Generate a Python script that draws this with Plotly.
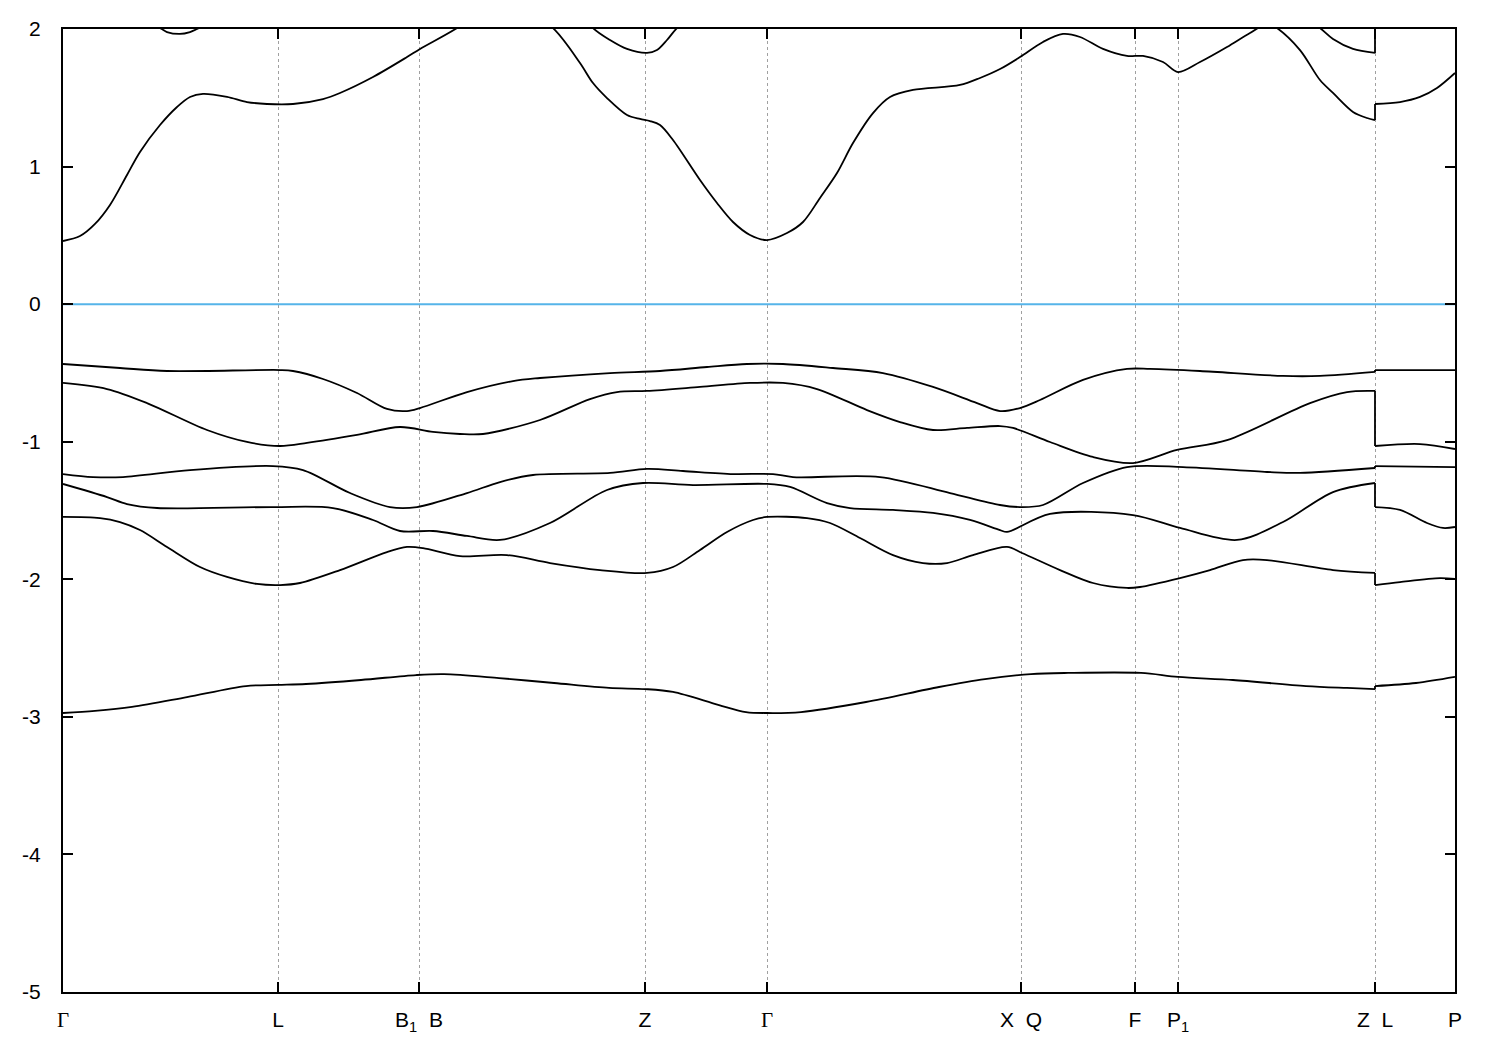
import plotly.graph_objects as go

# High-symmetry points along the k-path (path coordinate, arbitrary units)
sym_k = [0.000, 0.215, 0.356, 0.582, 0.704, 0.958, 1.072, 1.115, 1.312, 1.392]
GAM = '<span style="font-family:\'Liberation Serif\', serif">Γ</span>'
SP = "\u00a0\u00a0"
sym_labels = [GAM, "L", "B<sub>1</sub>" + SP + "B", "Z", GAM, "X" + SP + "Q", "F", "P<sub>1</sub>",
              "Z" + SP + "L", "P"]

# Bands (path coordinate, energy in eV)
band1_k = [0.000, 0.032, 0.069, 0.124, 0.183, 0.215, 0.243, 0.298, 0.353, 0.381, 0.436, 0.491, 0.546, 0.582,
           0.610, 0.656, 0.683, 0.704, 0.738, 0.803, 0.876, 0.922, 0.968, 1.005, 1.078, 1.115, 1.170, 1.243,
           1.284, 1.312, 1.312, 1.353, 1.392]
band1_e = [-2.972, -2.957, -2.928, -2.856, -2.776, -2.768, -2.761, -2.732, -2.696, -2.689, -2.718, -2.754, -2.790,
           -2.798, -2.819, -2.914, -2.965, -2.972, -2.965, -2.892, -2.783, -2.725, -2.689, -2.681, -2.681, -2.710,
           -2.732, -2.776, -2.790, -2.798, -2.776, -2.754, -2.710]

band2_k = [0.000, 0.037, 0.057, 0.077, 0.104, 0.137, 0.164, 0.194, 0.217, 0.237, 0.277, 0.324, 0.344, 0.360,
           0.397, 0.444, 0.487, 0.537, 0.584, 0.610, 0.637, 0.664, 0.690, 0.704, 0.744, 0.767, 0.797, 0.830,
           0.860, 0.884, 0.910, 0.944, 0.959, 0.997, 1.030, 1.064, 1.077, 1.117, 1.147, 1.180, 1.204, 1.270,
           1.312, 1.312, 1.337, 1.377, 1.392]
band2_e = [-1.547, -1.555, -1.584, -1.642, -1.765, -1.911, -1.983, -2.034, -2.042, -2.027, -1.933, -1.802, -1.765,
           -1.773, -1.831, -1.824, -1.882, -1.933, -1.954, -1.911, -1.787, -1.656, -1.569, -1.547, -1.555, -1.591,
           -1.700, -1.824, -1.882, -1.882, -1.824, -1.765, -1.809, -1.933, -2.027, -2.063, -2.056, -1.991, -1.933,
           -1.860, -1.860, -1.933, -1.954, -2.042, -2.020, -1.991, -1.998]

band3_k = [0.000, 0.044, 0.064, 0.094, 0.210, 0.270, 0.310, 0.337, 0.370, 0.404, 0.437, 0.487, 0.544, 0.580,
           0.630, 0.704, 0.727, 0.764, 0.787, 0.830, 0.870, 0.907, 0.937, 0.944, 0.987, 1.070, 1.117, 1.174,
           1.220, 1.270, 1.312, 1.312, 1.337, 1.364, 1.380, 1.392]
band3_e = [-1.307, -1.402, -1.453, -1.482, -1.475, -1.482, -1.569, -1.649, -1.649, -1.685, -1.714, -1.591, -1.351,
           -1.300, -1.315, -1.307, -1.329, -1.446, -1.482, -1.496, -1.518, -1.569, -1.642, -1.656, -1.525, -1.533,
           -1.627, -1.714, -1.584, -1.366, -1.300, -1.475, -1.496, -1.591, -1.627, -1.620]

band4_k = [0.000, 0.030, 0.060, 0.127, 0.210, 0.240, 0.287, 0.327, 0.354, 0.404, 0.437, 0.470, 0.547, 0.584,
           0.620, 0.670, 0.710, 0.730, 0.817, 0.887, 0.937, 0.957, 0.980, 1.020, 1.064, 1.120, 1.204, 1.237,
           1.312, 1.312, 1.392]
band4_e = [-1.235, -1.257, -1.257, -1.206, -1.177, -1.206, -1.373, -1.475, -1.475, -1.373, -1.293, -1.242, -1.227,
           -1.198, -1.213, -1.235, -1.235, -1.257, -1.257, -1.373, -1.460, -1.475, -1.460, -1.300, -1.184, -1.184,
           -1.220, -1.227, -1.191, -1.177, -1.184]

band5_k = [0.000, 0.044, 0.084, 0.144, 0.184, 0.217, 0.244, 0.294, 0.337, 0.370, 0.397, 0.420, 0.477, 0.527,
           0.554, 0.584, 0.637, 0.687, 0.720, 0.754, 0.804, 0.837, 0.870, 0.904, 0.937, 0.950, 0.987, 1.030,
           1.070, 1.114, 1.164, 1.247, 1.284, 1.312, 1.312, 1.357, 1.392]
band5_e = [-0.573, -0.617, -0.719, -0.915, -1.002, -1.031, -1.009, -0.951, -0.893, -0.929, -0.944, -0.944, -0.842,
           -0.690, -0.639, -0.631, -0.602, -0.573, -0.573, -0.617, -0.770, -0.857, -0.915, -0.900, -0.886, -0.900,
           -1.002, -1.111, -1.155, -1.060, -0.988, -0.719, -0.639, -0.631, -1.031, -1.017, -1.053]

band6_k = [0.000, 0.057, 0.104, 0.217, 0.230, 0.260, 0.294, 0.324, 0.344, 0.357, 0.404, 0.450, 0.477, 0.547,
           0.597, 0.644, 0.684, 0.720, 0.770, 0.820, 0.870, 0.914, 0.937, 0.957, 0.977, 1.020, 1.064, 1.087,
           1.137, 1.220, 1.257, 1.312, 1.312, 1.392]
band6_e = [-0.435, -0.464, -0.486, -0.479, -0.486, -0.544, -0.646, -0.762, -0.777, -0.755, -0.639, -0.559, -0.537,
           -0.501, -0.486, -0.457, -0.435, -0.435, -0.464, -0.501, -0.602, -0.719, -0.777, -0.755, -0.697, -0.551,
           -0.471, -0.471, -0.486, -0.522, -0.522, -0.493, -0.479, -0.479]

band7_k = [0.000, 0.017, 0.032, 0.047, 0.064, 0.077, 0.097, 0.114, 0.127, 0.140, 0.164, 0.184, 0.204, 0.230,
           0.260, 0.277, 0.310, 0.344, 0.357, 0.394, 0.442, 0.490, 0.517, 0.530, 0.544, 0.564, 0.577, 0.587,
           0.597, 0.610, 0.637, 0.654, 0.670, 0.687, 0.704, 0.724, 0.740, 0.757, 0.774, 0.790, 0.810, 0.827,
           0.850, 0.897, 0.917, 0.937, 0.957, 0.980, 1.000, 1.017, 1.040, 1.064, 1.080, 1.100, 1.115, 1.137,
           1.164, 1.187, 1.205, 1.214, 1.237, 1.257, 1.270, 1.290, 1.304, 1.312, 1.312, 1.337, 1.357, 1.374,
           1.392]
band7_e = [0.459, 0.495, 0.583, 0.721, 0.939, 1.106, 1.302, 1.433, 1.506, 1.528, 1.506, 1.469, 1.455, 1.455,
           1.491, 1.535, 1.651, 1.796, 1.855, 2.007, 2.250, 2.007, 1.753, 1.607, 1.498, 1.375, 1.346, 1.331,
           1.302, 1.193, 0.902, 0.735, 0.597, 0.503, 0.466, 0.517, 0.597, 0.772, 0.953, 1.171, 1.389, 1.506,
           1.557, 1.593, 1.644, 1.709, 1.796, 1.906, 1.964, 1.942, 1.855, 1.804, 1.804, 1.760, 1.687, 1.760,
           1.869, 1.971, 2.040, 2.007, 1.847, 1.629, 1.535, 1.397, 1.353, 1.338, 1.455, 1.469, 1.506, 1.571,
           1.680]

band8_k = [0.000, 0.097, 0.104, 0.117, 0.127, 0.134, 0.200, 0.450, 0.510, 0.530, 0.547, 0.564, 0.584, 0.594,
           0.604, 0.614, 0.660, 0.900, 1.200, 1.257, 1.270, 1.290, 1.312, 1.312, 1.392]
band8_e = [2.350, 2.007, 1.978, 1.964, 1.978, 2.000, 2.250, 2.300, 2.200, 2.007, 1.920, 1.855, 1.826, 1.847,
           1.920, 2.007, 2.300, 2.400, 2.300, 2.007, 1.927, 1.855, 1.826, 2.300, 2.350]

fermi_e = 0.0

bands = [(band1_k, band1_e), (band2_k, band2_e), (band3_k, band3_e), (band4_k, band4_e),
         (band5_k, band5_e), (band6_k, band6_e), (band7_k, band7_e), (band8_k, band8_e)]

LINE = dict(color="black", width=1.8)
SMOOTH = dict(LINE, shape="spline", smoothing=0.9)

fig = go.Figure()
fig.add_trace(go.Scatter(x=[sym_k[0], sym_k[-1]], y=[fermi_e, fermi_e], mode="lines",
                         line=dict(color="#56b4e9", width=2), showlegend=False, hoverinfo="skip"))

for kk, ee in bands:
    # split each band at discontinuities (repeated k at a path break)
    start = 0
    for i in range(1, len(kk)):
        if kk[i] == kk[i - 1]:
            fig.add_trace(go.Scatter(x=kk[start:i], y=ee[start:i], mode="lines",
                                     line=SMOOTH, showlegend=False))
            fig.add_trace(go.Scatter(x=kk[i - 1:i + 1], y=ee[i - 1:i + 1], mode="lines",
                                     line=LINE, showlegend=False))
            start = i
    fig.add_trace(go.Scatter(x=kk[start:], y=ee[start:], mode="lines",
                             line=SMOOTH, showlegend=False))

fig.update_layout(
    width=1484, height=1034,
    margin=dict(l=55, r=37, t=21, b=50),
    plot_bgcolor="white", paper_bgcolor="white",
    font=dict(family="Liberation Sans, Arial, sans-serif", size=21, color="black"),
    showlegend=False,
)
fig.update_xaxes(
    range=[sym_k[0], sym_k[-1]], tickmode="array", tickvals=sym_k, ticktext=sym_labels,
    showgrid=True, gridcolor="#a0a0a0", gridwidth=1, griddash="3px,3px",
    showline=True, linecolor="black", linewidth=2, mirror="ticks",
    ticks="inside", ticklen=10, tickwidth=2, tickcolor="black",
    zeroline=False, ticklabelstandoff=8, automargin=False,
)
fig.update_yaxes(
    range=[-5, 2], tickmode="array", tickvals=[2, 1, 0, -1, -2, -3, -4, -5],
    ticktext=["2", "1", "0", "-1", "-2", "-3", "-4", "-5"],
    showgrid=False, showline=True, linecolor="black", linewidth=2, mirror="ticks",
    ticks="inside", ticklen=10, tickwidth=2, tickcolor="black",
    zeroline=False, ticklabelstandoff=16, automargin=False,
)

fig.write_html("out.html")
